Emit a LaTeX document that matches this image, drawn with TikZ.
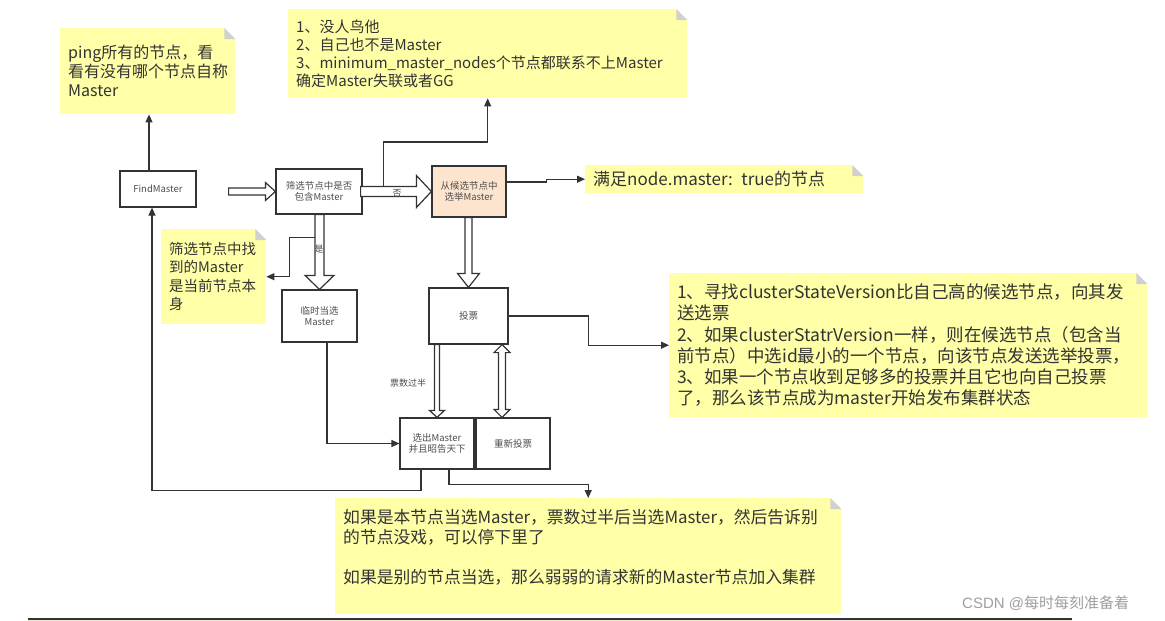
\documentclass[tikz,border=0pt]{standalone}
\usepackage{fontspec}
\setmainfont{Noto Sans CJK SC}
\newfontfamily\wmlatin{Liberation Sans}
\usetikzlibrary{calc,arrows.meta}
\definecolor{notey}{HTML}{FFFFA8}
\definecolor{orangef}{HTML}{FDE4CF}
\definecolor{ln}{HTML}{333333}
\definecolor{txt}{HTML}{333333}
\definecolor{btxt}{HTML}{4D4D4D}
\definecolor{foldc}{HTML}{D0D0D0}
\definecolor{beige}{HTML}{EDE3D3}
\newcommand\hright[5]{\draw[hollow] let \p1=#1, \p2=#2 in (\x1,\y2+#3) -- (\x2-#5,\y2+#3) -- (\x2-#5,\y2+#4) -- (\x2,\y2) -- (\x2-#5,\y2-#4) -- (\x2-#5,\y2-#3) -- (\x1,\y2-#3) -- cycle;}
\newcommand\hdown[5]{\draw[hollow] let \p1=#1, \p2=#2 in (\x2-#3,\y1) -- (\x2-#3,\y2+#5) -- (\x2-#4,\y2+#5) -- (\x2,\y2) -- (\x2+#4,\y2+#5) -- (\x2+#3,\y2+#5) -- (\x2+#3,\y1) -- cycle;}
\newcommand\hboth[5]{\draw[hollow] let \p1=#1, \p2=#2 in (\x2-#3,\y1-#5) -- (\x2-#4,\y1-#5) -- (\x2,\y1) -- (\x2+#4,\y1-#5) -- (\x2+#3,\y1-#5) -- (\x2+#3,\y2+#5) -- (\x2+#4,\y2+#5) -- (\x2,\y2) -- (\x2-#4,\y2+#5) -- (\x2-#3,\y2+#5) -- cycle;}
\newcommand\fold[1]{\fill[white] (#1.north east) -- ++(-11,0) -- ++(11,11) -- cycle;
  \fill[foldc] ($(#1.north east)+(-11,0)$) -- ++(0,11) -- ++(11,0) -- cycle;}
\begin{document}
\begin{tikzpicture}[x=1pt,y=-1pt,
 box/.style={draw=ln, line width=1.2pt, fill=white, inner sep=0pt, align=center, text=btxt, font=\fontsize{9.5}{11.5}\selectfont},
 note/.style={fill=notey, anchor=north west, inner xsep=8pt, inner ysep=0pt, align=left, text=txt},
 conn/.style={draw=ln, line width=1.2pt, -{Triangle[length=8pt,width=7pt]}},
 hollow/.style={draw=ln, line width=1.2pt, fill=white, line join=miter},
 lbl/.style={text=btxt, font=\fontsize{9}{10}\selectfont, inner sep=0pt}]
\fill[white] (0,0) rectangle (1165,621);
\useasboundingbox (0,0) rectangle (1165,621);

% notes
\node[note, minimum width=175pt, minimum height=86pt, text width=159pt, font=\fontsize{16}{19}\selectfont] (nA) at (60,28) {ping所有的节点，看\\看有没有哪个节点自称\\Master};
\node[note, minimum width=399pt, minimum height=89pt, text width=383pt, font=\fontsize{15}{18}\selectfont] (nB) at (288,9) {1、没人鸟他\\2、自己也不是Master\\3、minimum\_master\_nodes个节点都联系不上Master\\确定Master失联或者GG};
\node[note, minimum width=278pt, minimum height=28pt, text width=262pt, font=\fontsize{17}{20}\selectfont] (nC) at (585,165) {满足node.master: true的节点};
\node[note, minimum width=105pt, minimum height=95pt, text width=89pt, font=\fontsize{14.5}{18.5}\selectfont] (nD) at (161,229) {筛选节点中找\\到的Master\\是当前节点本\\身};
\node[note, minimum width=478pt, minimum height=144pt, text width=462pt, font=\fontsize{17.5}{21.3}\selectfont] (nE) at (669,273) {1、寻找clusterStateVersion比自己高的候选节点，向其发\\送选票\\2、如果clusterStatrVersion一样，则在候选节点（包含当\\前节点）中选id最小的一个节点，向该节点发送选举投票，\\3、如果一个节点收到足够多的投票并且它也向自己投票\\了，那么该节点成为master开始发布集群状态};
\node[note, minimum width=506pt, minimum height=116pt, text width=490pt, font=\fontsize{16.8}{20}\selectfont] (nF) at (335,498) {如果是本节点当选Master，票数过半后当选Master，然后告诉别\\的节点没戏，可以停下里了\\[20pt]如果是别的节点当选，那么弱弱的请求新的Master节点加入集群\\\mbox{}};
\fold{nA}\fold{nB}\fold{nC}\fold{nD}\fold{nE}\fold{nF}

% boxes
\node[box, minimum width=76pt, minimum height=36pt] (fm) at (158,189) {FindMaster};
\node[box, minimum width=86pt, minimum height=45pt] (sx) at (319,191.5) {筛选节点中是否\\包含Master};
\node[box, fill=orangef, minimum width=74pt, minimum height=51pt] (cx) at (469,191.5) {从候选节点中\\选举Master};
\node[box, minimum width=75pt, minimum height=52pt] (lsx) at (319.5,316) {临时当选\\Master};
\node[box, minimum width=79pt, minimum height=56pt] (tp) at (468.5,316) {投票};
\node[box, minimum width=74pt, minimum height=51pt] (xc) at (437,443.5) {选出Master\\并且昭告天下};
\node[box, minimum width=74pt, minimum height=51pt] (cx2) at (513,443.5) {重新投票};

% fork coordinates on hollow arrows
\coordinate (nofork) at ($(sx.east)+(21,-5)$);
\coordinate (yesfork) at ($(sx.south)+(-4.5,23)$);

% connectors
\draw[conn] ([xshift=-9pt]fm.north) -- ([xshift=-9pt]fm.north |- nA.south);
\draw[conn] ([xshift=-16pt]xc.south) -- ++(0,21) -| ([xshift=-6pt]fm.south);
\draw[conn] ([xshift=12pt]xc.south) -- ++(0,15) -| (nF.north);
\draw[conn] ([xshift=7.5pt]lsx.south) |- (xc.west);
\draw[conn] (tp.east) -- ++(80,0) |- (nE.west);
\draw[conn] ([yshift=9.5pt]cx.east) -- ++(40,0) |- (nC.west);
\draw[conn] (nofork) -- ++(0,-44.5) -| (nB.south);
\draw[conn] (yesfork) -- ++(-25,0) |- (nD.east);

% hollow arrows
\hright{($(fm.east)+(32,0)$)}{(sx.west)}{3.5pt}{9pt}{10pt}
\hright{($(sx.east)+(-2,0)$)}{(cx.west)}{5pt}{16pt}{15pt}
\hdown{(sx.south)}{(lsx.north)}{4.5pt}{14.5pt}{14pt}
\hdown{(cx.south)}{(tp.north)}{3.5pt}{11pt}{14pt}
\hdown{($(tp.south)+(-32,0)$)}{(xc.north)}{2.5pt}{7.5pt}{7pt}
\hboth{($(tp.south)+(33.5,0)$)}{($(cx2.north)+(-11,0)$)}{3.5pt}{8pt}{8pt}

% labels
\node[lbl] (lno) at ($(sx.east)!0.5!(cx.west)+(0,1.5)$) {否};
\node[lbl] (lyes) at (319,249) {是};
\node[lbl] (lhalf) at (408,383) {票数过半};

% bottom strip and watermark
\fill[beige] (28,619) rectangle (1072,621);
\draw[ln, line width=1.2pt] (28,619) -- (1072,619);
\node[anchor=west, text=gray!75, font=\fontsize{15}{17}\selectfont, inner sep=0pt] (wm) at (962,603) {{\wmlatin CSDN @}每时每刻准备着};
\end{tikzpicture}
\end{document}
